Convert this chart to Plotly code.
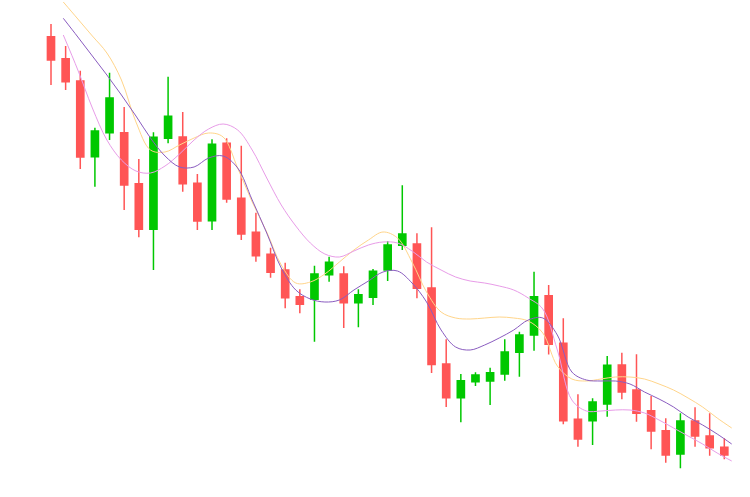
import plotly.graph_objects as go

# Candle data (arbitrary price units)
open_ = [92.66, 88.26, 83.8, 68.66, 73.46, 73.46, 63.26, 54.14, 72.34, 72.6,
         63.34, 55.86, 71.34, 60.34, 53.54, 49.14, 46.0, 40.66, 40.14, 45.06,
         45.2, 39.46, 40.54, 46.0, 50.94, 51.2, 42.4, 27.2, 20.46, 23.66,
         23.8, 25.2, 29.54, 33.0, 40.86, 31.34, 16.14, 15.86, 19.2, 27.0,
         22.0, 17.86, 13.86, 9.2, 15.8, 12.8, 10.54]
high = [95.2, 90.8, 85.86, 74.46, 85.46, 78.6, 68.2, 73.54, 84.66, 77.6,
        65.2, 72.14, 72.34, 70.86, 57.46, 50.46, 47.46, 42.14, 46.86, 48.66,
        46.74, 42.14, 46.2, 51.8, 62.94, 53.34, 54.54, 32.14, 25.2, 25.54,
        26.46, 32.14, 33.66, 45.66, 43.0, 36.34, 21.14, 20.34, 28.8, 29.46,
        29.14, 20.8, 16.34, 17.34, 18.54, 17.34, 12.34]
low = [83.0, 82.0, 66.2, 62.66, 72.0, 58.0, 52.54, 46.0, 71.34, 61.66,
       54.0, 54.0, 59.46, 52.0, 47.66, 44.46, 38.34, 37.34, 31.66, 43.66,
       34.4, 34.54, 39.0, 43.8, 50.0, 40.36, 25.4, 18.6, 15.54, 22.8,
       19.0, 23.86, 24.66, 29.86, 29.1, 15.16, 10.66, 11.0, 16.66, 20.14,
       15.66, 10.14, 7.46, 6.34, 10.66, 8.86, 8.14]
close = [88.0, 83.66, 68.6, 73.8, 80.4, 63.0, 54.14, 72.54, 76.74, 63.26,
         55.8, 71.14, 60.2, 53.2, 48.86, 45.54, 40.46, 39.14, 45.2, 47.54,
         39.46, 41.06, 45.74, 51.0, 53.2, 42.34, 27.1, 20.46, 23.86, 25.0,
         25.46, 29.6, 33.0, 40.66, 31.16, 15.86, 12.2, 19.6, 26.94, 21.6,
         17.34, 13.8, 9.0, 15.8, 12.8, 10.46, 9.0]

# Smoothed moving-average style lines
line_purple = [96.34, 92.6, 88.8, 85.0, 81.0, 76.8, 72.4, 68.8, 66.6, 66.6,
               68.4, 68.8, 66.4, 60.0, 53.4, 46.4, 42.0, 40.2, 39.6, 40.0,
               42.0, 43.8, 45.6, 45.8, 43.4, 39.6, 34.0, 30.6, 30.0, 31.0,
               32.4, 34.0, 36.0, 36.4, 33.0, 25.6, 24.0, 23.8, 23.8, 23.2,
               21.6, 20.2, 18.6, 16.6, 15.0, 13.2, 11.2]
line_pink = [93.0, 86.0, 78.4, 72.0, 68.0, 65.8, 65.4, 66.8, 69.2, 72.0,
             74.2, 75.2, 74.0, 70.0, 64.4, 59.0, 54.8, 51.4, 49.2, 48.6,
             49.8, 51.0, 51.6, 51.4, 49.8, 47.6, 46.0, 44.6, 43.8, 43.4,
             42.8, 42.0, 40.4, 38.2, 30.0, 20.0, 17.8, 17.8, 18.0, 18.0,
             17.4, 16.0, 14.4, 12.8, 11.2, 9.4, 7.8]
line_orange = [99.6, 96.2, 92.8, 89.4, 84.0, 75.6, 70.0, 69.6, 71.0, 72.4,
               73.4, 72.6, 66.4, 59.6, 53.6, 47.0, 43.4, 43.6, 45.2, 47.6,
               50.0, 52.0, 53.6, 52.4, 47.6, 41.6, 37.6, 36.4, 36.2, 36.4,
               36.6, 36.4, 35.8, 33.4, 26.8, 24.2, 23.8, 24.2, 24.6, 24.6,
               24.2, 23.2, 22.0, 20.4, 18.6, 16.4, 14.4]

idx = list(range(len(open_)))
lidx = list(range(len(line_purple)))

fig = go.Figure()
fig.add_trace(go.Candlestick(
    x=idx, open=open_, high=high, low=low, close=close,
    increasing=dict(line=dict(color="#00C800", width=1.5), fillcolor="#00C800"),
    decreasing=dict(line=dict(color="#FF5555", width=1.5), fillcolor="#FF5555"),
    whiskerwidth=0, showlegend=False, xaxis="x", yaxis="y",
))
for vals, col in [(line_orange, "#FFD58A"), (line_pink, "#E89CE8"), (line_purple, "#8A5CC0")]:
    fig.add_trace(go.Scatter(
        x=lidx, y=vals, mode="lines", line=dict(color=col, width=1, shape="spline", smoothing=1.0),
        showlegend=False, xaxis="x2", yaxis="y", hoverinfo="skip",
    ))

fig.update_layout(
    width=750, height=497,
    margin=dict(l=0, r=0, t=0, b=0),
    paper_bgcolor="white", plot_bgcolor="white",
    xaxis=dict(range=[-3.484, 47.755], visible=False, rangeslider=dict(visible=False)),
    xaxis2=dict(range=[-4.357, 47.26], visible=False, overlaying="x"),
    yaxis=dict(range=[0.6, 100], visible=False),
    showlegend=False,
)
fig.write_html("out.html", config={"displayModeBar": False},
               post_script="document.body.style.margin='0';")
